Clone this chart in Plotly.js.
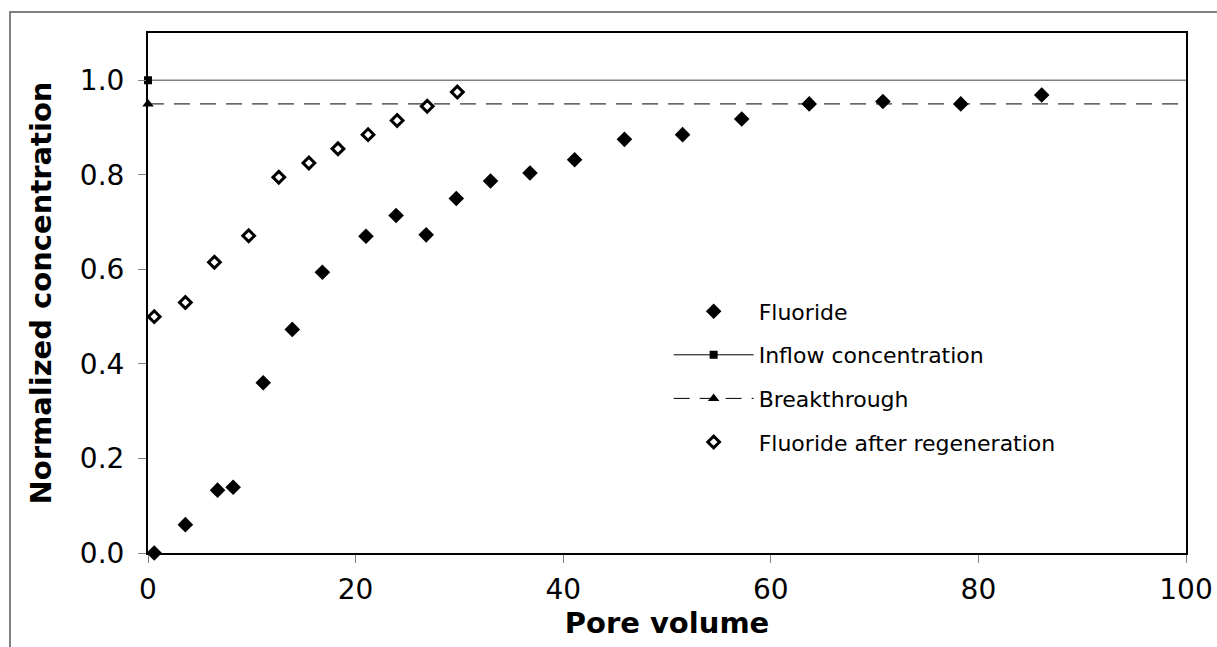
<!DOCTYPE html>
<html><head><meta charset="utf-8">
<script src="https://cdn.plot.ly/plotly-3.0.1.min.js"></script>
<style>
html,body{margin:0;padding:0;background:#fff;overflow:hidden}
#wrap{position:relative;width:1217px;height:647px}
#chart{position:absolute;left:0;top:0;width:1217px;height:647px}
#frame{position:absolute;left:9px;top:11px;width:1300px;height:700px;border:2px solid #808080;pointer-events:none}
</style></head><body>
<div id="wrap"><div id="chart"></div><div id="frame"></div></div>
<script>
const fluorideX = [0.6, 3.6, 6.7, 8.2, 11.1, 13.9, 16.8, 21.0, 23.9, 26.8, 29.7, 33.0, 36.8, 41.1, 45.9, 51.5, 57.2, 63.7, 70.8, 78.3, 86.1];
const fluorideY = [0.000, 0.060, 0.133, 0.139, 0.360, 0.473, 0.594, 0.670, 0.714, 0.673, 0.750, 0.787, 0.804, 0.832, 0.875, 0.885, 0.918, 0.950, 0.955, 0.950, 0.969];
const regenX = [0.6, 3.6, 6.4, 9.7, 12.6, 15.5, 18.3, 21.2, 24.0, 26.9, 29.8];
const regenY = [0.500, 0.530, 0.615, 0.671, 0.795, 0.825, 0.855, 0.885, 0.915, 0.945, 0.975];
const inflowX = [0, 100];
const inflowY = [1.0, 1.0];
const breakX = [0, 100];
const breakY = [0.95, 0.95];
const xTicks = [0, 20, 40, 60, 80, 100];
const yTicks = [0.0, 0.2, 0.4, 0.6, 0.8, 1.0];

const traces = [
  {x: inflowX, y: inflowY, mode: 'lines', line: {color: '#808080', width: 1.5}, showlegend: false, hoverinfo: 'skip', legendgroup: 'b'},
  {x: breakX, y: breakY, mode: 'lines', line: {color: '#000', width: 1, dash: '16px,10px'}, showlegend: false, hoverinfo: 'skip', legendgroup: 'c'},
  {x: fluorideX, y: fluorideY, name: 'Fluoride', mode: 'markers', legendgroup: 'a',
   marker: {symbol: 'diamond', size: 12, color: '#000', line: {width: 0}}, cliponaxis: false},
  {x: [inflowX[0]], y: [inflowY[0]], name: 'Inflow concentration', mode: 'lines+markers', legendgroup: 'b',
   line: {color: '#000', width: 1}, marker: {symbol: 'square', size: 8, color: '#000'}, cliponaxis: false},
  {x: [breakX[0]], y: [breakY[0]], name: 'Breakthrough', mode: 'lines+markers', legendgroup: 'c',
   line: {color: '#000', width: 1, dash: '16px,10px'}, marker: {symbol: 'triangle-up', size: 10, color: '#000'}, cliponaxis: false},
  {x: regenX, y: regenY, name: 'Fluoride after regeneration', mode: 'markers', legendgroup: 'd',
   marker: {symbol: 'diamond', size: 9, color: '#fff', line: {width: 3, color: '#000'}}, cliponaxis: false}
];

const layout = {
  width: 1217, height: 647,
  margin: {l: 148, r: 31, t: 33, b: 94, pad: 0},
  paper_bgcolor: 'rgba(0,0,0,0)', plot_bgcolor: '#fff',
  font: {family: 'DejaVu Sans, Verdana, sans-serif', color: '#000', size: 28},
  showlegend: true,
  legend: {x: 0.5016, y: 0.505, xanchor: 'left', yanchor: 'top', font: {size: 22}, itemwidth: 80,
           tracegroupgap: 12, traceorder: 'grouped', bgcolor: 'rgba(0,0,0,0)', borderwidth: 0},
  xaxis: {range: [0, 100], tickvals: xTicks, ticktext: xTicks.map(String), ticks: 'outside', ticklen: 8,
          tickcolor: '#808080', tickwidth: 1, showline: true, linecolor: '#000', linewidth: 2, mirror: true,
          showgrid: false, zeroline: false, automargin: false, ticklabelstandoff: 2,
          tickfont: {family: 'DejaVu Sans, Verdana, sans-serif', size: 28, color: '#000'},
          title: {text: '<b>Pore volume</b>', font: {size: 29}, standoff: 0}},
  yaxis: {range: [0, 1.1], tickvals: yTicks, ticktext: yTicks.map(v => v.toFixed(1)), ticks: 'outside', ticklen: 8,
          tickcolor: '#808080', tickwidth: 1, showline: true, linecolor: '#000', linewidth: 2, mirror: true,
          showgrid: false, zeroline: false, automargin: false, ticklabelstandoff: 8,
          tickfont: {family: 'DejaVu Sans, Verdana, sans-serif', size: 28, color: '#000'},
          title: {text: '<b>Normalized concentration</b>', font: {size: 29}, standoff: 20}}
};

Plotly.newPlot('chart', traces, layout, {displayModeBar: false, staticPlot: true});
</script>
</body></html>
